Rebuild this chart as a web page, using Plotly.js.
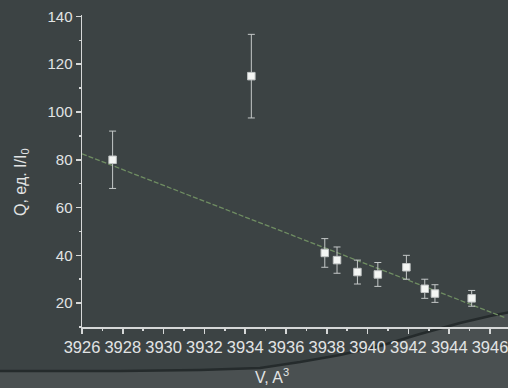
<!DOCTYPE html>
<html>
<head>
<meta charset="utf-8">
<script src="https://cdn.plot.ly/plotly-3.0.1.min.js"></script>
<style>html,body{margin:0;padding:0;background:#3c4344;}#chart{width:508px;height:388px;}</style>
</head>
<body>
<div id="chart"></div>
<script>
// Data
const volumeV = [3927.5, 3934.3, 3937.9, 3938.5, 3939.5, 3940.5, 3941.9, 3942.8, 3943.3, 3945.1];
const intensityQ = [80, 115, 41, 38, 33, 32, 35, 26, 24, 22];
const errorQ = [12, 17.5, 6, 5.5, 5, 5, 5, 4, 3.7, 3.3];
const fitV = [3926, 3946.7];
const fitQ = [82.5, 14];
const xTickVals = [3926, 3928, 3930, 3932, 3934, 3936, 3938, 3940, 3942, 3944, 3946];
const yTickVals = [20, 40, 60, 80, 100, 120, 140];

const L = 82, T = 15, W = 426, H = 312; // plot area in px
const px = x => (x - L) / W;
const py = y => (T + H - y) / H;

function curvePath(pts, close) {
  let d = 'M ' + px(pts[0][0]) + ' ' + py(pts[0][1]);
  for (let i = 1; i < pts.length; i++) d += ' L ' + px(pts[i][0]) + ' ' + py(pts[i][1]);
  if (close) d += ' L ' + px(510) + ' ' + py(390) + ' L ' + px(-2) + ' ' + py(390) + ' Z';
  return d;
}
const curvePts = [[-2,371],[120,371],[200,370],[260,368],[300,362],[340,355],[380,346],[420,334],[460,323],[490,316],[510,312]];

const traces = [
  {
    x: fitV, y: fitQ, type: 'scatter', mode: 'lines',
    line: {color: '#6f8d62', width: 1.3, dash: '5px,2px'},
    hoverinfo: 'skip', showlegend: false
  },
  {
    x: volumeV, y: intensityQ, type: 'scatter', mode: 'markers',
    error_y: {type: 'data', array: errorQ, visible: true, color: '#c4c8c8', thickness: 1, width: 3.5},
    marker: {symbol: 'square', size: 7.5, color: '#f4f6f4', line: {color: '#c0c4c4', width: 1}},
    showlegend: false
  }
];

const axisColor = '#d6d8d8';
const layout = {
  width: 508, height: 388,
  paper_bgcolor: '#3c4344', plot_bgcolor: 'rgba(0,0,0,0)',
  margin: {l: L, r: 508 - L - W, t: T, b: 388 - T - H, pad: 0},
  showlegend: false,
  xaxis: {
    range: [3926, 3946.88], tickvals: xTickVals, ticktext: xTickVals.map(String),
    tickangle: 0, automargin: false, ticklabeloverflow: 'allow',
    showgrid: false, zeroline: false, showline: true, linecolor: axisColor, linewidth: 1.5,
    ticks: 'outside', ticklen: 5, tickwidth: 1.5, tickcolor: axisColor,
    minor: {dtick: 1, tick0: 3926, ticks: 'outside', ticklen: 2, tickwidth: 1.5, tickcolor: axisColor, showgrid: false},
    tickfont: {family: 'Liberation Sans, Arial, sans-serif', size: 16.5, color: '#e2e4e4'}
  },
  yaxis: {
    range: [10, 140.6], tickvals: yTickVals, ticktext: yTickVals.map(String),
    automargin: false,
    showgrid: false, zeroline: false, showline: true, linecolor: axisColor, linewidth: 1.5,
    ticks: 'outside', ticklen: 5, tickwidth: 1.5, tickcolor: axisColor,
    minor: {dtick: 10, tick0: 10, ticks: 'outside', ticklen: 2, tickwidth: 1.5, tickcolor: axisColor, showgrid: false},
    tickfont: {family: 'Liberation Sans, Arial, sans-serif', size: 15, color: '#e2e4e4'}
  },
  shapes: [
    {type: 'path', xref: 'paper', yref: 'paper', layer: 'below', path: curvePath(curvePts, true),
     fillcolor: '#4a5051', line: {width: 0}},
    {type: 'path', xref: 'paper', yref: 'paper', layer: 'below', path: curvePath(curvePts, false),
     fillcolor: 'rgba(0,0,0,0)', line: {color: '#252b2c', width: 2.5}}
  ],
  annotations: [
    {text: 'V, A<sup>3</sup>', xref: 'paper', yref: 'paper', x: px(272), y: py(376), showarrow: false,
     xanchor: 'center', yanchor: 'middle', font: {family: 'Liberation Sans, Arial, sans-serif', size: 16, color: '#e2e4e4'}},
    {text: 'Q, ед. I/I<sub>0</sub>', xref: 'paper', yref: 'paper', x: px(21), y: py(182), showarrow: false,
     textangle: -90, xanchor: 'center', yanchor: 'middle', font: {family: 'Liberation Sans, Arial, sans-serif', size: 16, color: '#e2e4e4'}}
  ]
};

Plotly.newPlot('chart', traces, layout, {displayModeBar: false, staticPlot: true});
</script>
</body>
</html>
